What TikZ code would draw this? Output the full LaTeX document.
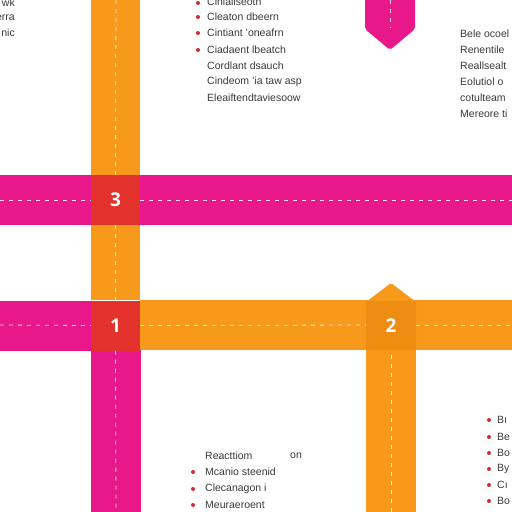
\documentclass[tikz,border=0pt]{standalone}
\usepackage{fontspec}
\setmainfont{Liberation Sans}
\newfontfamily\numfont{Open Sans}
\definecolor{band}{HTML}{F79A1C}
\definecolor{mag}{HTML}{E8188A}
\definecolor{redsq}{HTML}{E3312B}
\definecolor{darkor}{HTML}{EF8C12}
\definecolor{txt}{HTML}{3A3A3A}
\definecolor{bul}{HTML}{D42A2A}
\begin{document}
\begin{tikzpicture}[x=1pt,y=-1pt,
  numsq/.style={fill=redsq,minimum width=49pt,minimum height=50pt,inner sep=0pt,text=white,font=\numfont\bfseries\fontsize{19}{19}\selectfont},
  dashln/.style={draw=white,line width=0.8pt,dash pattern=on 4pt off 5pt,opacity=0.85},
  lbl/.style={anchor=west,inner sep=0pt,text=txt,font=\fontsize{10.5}{12}\selectfont},
  lblr/.style={anchor=east,inner sep=0pt,text=txt,font=\fontsize{10.5}{12}\selectfont},
  bulletdot/.style={circle,fill=bul,inner sep=0pt,minimum size=4pt}]
\useasboundingbox (0,0) rectangle (512,512);
\clip (0,0) rectangle (512,512);
\fill[white] (0,0) rectangle (512,512);
% bands
\fill[band] (91,0) rectangle (140,300);
\fill[mag] (0,175) rectangle (512,225);
\fill[band] (140,300) rectangle (512,350);
\fill[mag] (0,301) rectangle (91,351);
\fill[mag] (91,350) rectangle (141,512);
\fill[band] (366,350) rectangle (416,512);
\fill[band,rounded corners=2pt] (366,302) -- (391,283) -- (416,302) -- cycle;
\fill[darkor,rounded corners=2pt] (366,301) rectangle (416,350);
\fill[mag,rounded corners=2pt] (365,-5) -- (415,-5) -- (415,29) -- (390,50) -- (365,29) -- cycle;
% number squares
\node[numsq] (n3) at (115.5,200) {3};
\node[numsq] (n1) at (115.5,325.5) {1};
\node[inner sep=0pt,text=white,font=\numfont\bfseries\fontsize{19}{19}\selectfont] (n2) at (391,326) {2};
% dashed centre lines
\draw[dashln] (0,200) -- (n3.west);
\draw[dashln] (n3.east) -- (512,200);
\draw[dashln] (0,325) -- (n1.west);
\draw[dashln] (n1.east) -- (366,325);
\draw[dashln] (416,325) -- (512,325);
\draw[dashln] (116,0) -- (n3.north);
\draw[dashln] (n3.south) -- (n1.north);
\draw[dashln] (n1.south) -- (116,512);
\draw[dashln] (391,355) -- (391,512);
\draw[dashln] (390,0) -- (390,28);
% top-left text
\node[lblr] (tl1) at (15,3) {wk};
\node[lblr] (tl2) at (15,18) {erra};
\node[lblr] (tl3) at (15,33) {nic};
% top middle list
\node[bulletdot] (b1) at (198,3) {};
\node[bulletdot] (b2) at (198,17) {};
\node[bulletdot] (b3) at (198,33) {};
\node[bulletdot] (b4) at (198,50) {};
\node[lbl] (t1) at (207,2) {Cinialiseoth};
\node[lbl] (t2) at (207,17) {Cleaton dbeern};
\node[lbl] (t3) at (207,33) {Cintiant 'oneafrn};
\node[lbl] (t4) at (207,50) {Ciadaent lbeatch};
\node[lbl] (t5) at (207,66) {Cordlant dsauch};
\node[lbl] (t6) at (207,82) {Cindeom 'ia taw asp};
\node[lbl] (t7) at (207,98) {Eleaiftendtaviesoow};
% top right
\node[lbl] (r1) at (460,34) {Bele ocoel};
\node[lbl] (r2) at (460,50) {Renentile};
\node[lbl] (r3) at (460,66) {Reallsealt};
\node[lbl] (r4) at (460,82) {Eolutiol o};
\node[lbl] (r5) at (460,98) {cotulteam};
\node[lbl] (r6) at (460,114) {Mereore ti};
% bottom middle
\node[lbl] (m0) at (205,456) {Reacttiom};
\node[lbl] (m0b) at (290,456) {on};
\node[bulletdot] (mb1) at (193,472) {};
\node[bulletdot] (mb2) at (193,489) {};
\node[bulletdot] (mb3) at (193,505) {};
\node[lbl] (m1) at (205,472) {Mcanio steenid};
\node[lbl] (m2) at (205,489) {Clecanagon i};
\node[lbl] (m3) at (205,505) {Meuraeroent};
% bottom right
\node[bulletdot] (rb1) at (489,420) {};
\node[bulletdot] (rb2) at (489,437) {};
\node[bulletdot] (rb3) at (489,453) {};
\node[bulletdot] (rb4) at (489,469) {};
\node[bulletdot] (rb5) at (489,485) {};
\node[bulletdot] (rb6) at (489,501) {};
\node[lbl] (q1) at (497,420) {Bı};
\node[lbl] (q2) at (497,437) {Be};
\node[lbl] (q3) at (497,453) {Bo};
\node[lbl] (q4) at (497,469) {By};
\node[lbl] (q5) at (497,485) {Cı};
\node[lbl] (q6) at (497,501) {Bo};
\end{tikzpicture}
\end{document}
